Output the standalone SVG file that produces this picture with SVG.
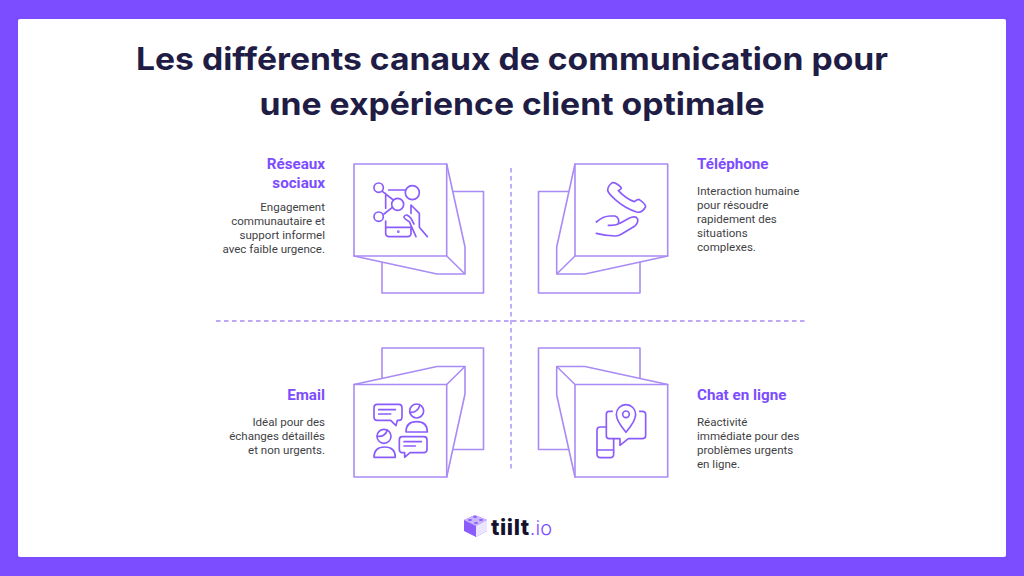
<svg xmlns="http://www.w3.org/2000/svg" width="1024" height="576" viewBox="0 0 1024 576">
<style>
.s{fill:none;stroke:#a98bf5;stroke-width:1.6;stroke-linejoin:round}
.w{fill:#fff;stroke:#a98bf5;stroke-width:1.6;stroke-linejoin:round}
.i{fill:none;stroke:#8a5cfb;stroke-width:5;stroke-linecap:round;stroke-linejoin:round}
.d{stroke:#a98bf5;stroke-width:1.4;stroke-dasharray:4.5 3.5;fill:none}
.t{font-family:"Inter","Liberation Sans",sans-serif;font-weight:700;font-size:31px;fill:#1f1d45;text-anchor:middle}
.h{font-family:"Roboto","Liberation Sans",sans-serif;font-weight:700;font-size:15.2px;fill:#7c4dff}
.b{font-family:"Roboto","Liberation Sans",sans-serif;font-size:11.55px;fill:#3f3f46}
.e{text-anchor:end}
</style>
<rect width="1024" height="576" fill="#7c4dff"/>
<rect x="18" y="19" width="988" height="538" rx="2" fill="#fff"/>
<g id="title">
<text class="t" x="512" y="70" textLength="752" lengthAdjust="spacingAndGlyphs">Les différents canaux de communication pour</text>
<text class="t" x="512" y="115" textLength="505" lengthAdjust="spacingAndGlyphs">une expérience client optimale</text>
</g>
<g id="connectors">
<path class="d" d="M511 168V472"/>
<path class="d" d="M216 321H807"/>
</g>
<g id="reseaux">
<rect class="s" x="382" y="191.5" width="101.5" height="101.5"/>
<path class="w" d="M446.7 164L465 247V274H437L354 256Z"/>
<path class="s" d="M446.7 256L465 274"/>
<rect class="w" x="354" y="164" width="92.7" height="92"/>
<g class="i" transform="translate(340 150) scale(.3333)">
<circle cx="116" cy="113" r="14"/><circle cx="217" cy="128" r="21"/><circle cx="173" cy="163" r="18"/><circle cx="116" cy="200" r="14"/>
<path d="M127 124L160 150M146 120H196M132 192L157 172M137 130V175M137 213V250Q137 260 147 260H203Q213 260 213 250V236M137 232H213M213 165V190M213 165L238 190V232L262 260M228 260L208 215Q190 205 192 200Q200 188 213 205L222 222"/>
<circle cx="175" cy="245" r="1.5"/>
</g>
<text class="h e" x="325" y="169">Réseaux</text>
<text class="h e" x="325" y="188">sociaux</text>
<text class="b e" x="325" y="211">Engagement</text>
<text class="b e" x="325" y="225">communautaire et</text>
<text class="b e" x="325" y="239">support informel</text>
<text class="b e" x="325" y="253">avec faible urgence.</text>
</g>
<g id="telephone">
<rect class="s" x="538.5" y="191.5" width="101.5" height="101.5"/>
<path class="w" d="M575 164L556.7 247V274H585L667.7 256Z"/>
<path class="s" d="M575 256L556.7 274"/>
<rect class="w" x="575" y="164" width="92.7" height="92"/>
<g class="i" transform="translate(525 150) scale(.3333)">
<path d="M262 98Q248 108 248 122Q252 132 270 148Q300 175 335 186Q352 190 362 170Q362 162 342 148Q335 148 328 155Q305 148 280 122Q292 116 288 112Q272 96 262 98Z"/>
<path d="M214 216Q235 198 255 198H270Q285 203 280 222Q270 227 250 226M214 250Q245 258 272 258Q280 258 290 252L330 228Q345 212 334 202Q325 198 312 205L285 220"/>
</g>
<text class="h" x="697" y="169">Téléphone</text>
<text class="b" x="697" y="195">Interaction humaine</text>
<text class="b" x="697" y="209">pour résoudre</text>
<text class="b" x="697" y="223">rapidement des</text>
<text class="b" x="697" y="237">situations</text>
<text class="b" x="697" y="251">complexes.</text>
</g>
<g id="email">
<rect class="s" x="382" y="348" width="101.5" height="101.5"/>
<path class="w" d="M354 384.5L437 366.5H465V394L446.7 477Z"/>
<path class="s" d="M446.7 384.5L465 366.5"/>
<rect class="w" x="354" y="384.5" width="92.7" height="92.5"/>
<g class="i" transform="translate(340 335) scale(.3333)">
<path d="M112 208H176Q186 208 186 218V246Q186 256 176 256H172L168 272L152 256H112Q102 256 102 246V218Q102 208 112 208ZM116 224H166M116 237H152"/>
<circle cx="230" cy="228" r="21"/><path d="M210 232Q232 234 240 210M198 291Q198 260 230 260Q262 260 262 291Z"/>
<circle cx="132" cy="304" r="21"/><path d="M112 304Q134 306 142 286M102 367Q102 336 134 336Q166 336 166 367Z"/>
<path d="M186 305H252Q261 305 261 315V343Q261 353 252 353H210L194 367V353H186Q178 353 178 343V315Q178 305 186 305ZM192 320H244M192 333H226"/>
</g>
<text class="h e" x="325" y="400">Email</text>
<text class="b e" x="325" y="426">Idéal pour des</text>
<text class="b e" x="325" y="440">échanges détaillés</text>
<text class="b e" x="325" y="454">et non urgents.</text>
</g>
<g id="chat">
<rect class="s" x="538.5" y="348" width="101.5" height="101.5"/>
<path class="w" d="M667.7 384.5L585 366.5H556.7V395L575 477Z"/>
<path class="s" d="M575 384.5L556.7 366.5"/>
<rect class="w" x="575" y="384.5" width="92.7" height="92.5"/>
<g class="i" transform="translate(525 335) scale(.3333)">
<path d="M303 292Q274 258 274 238A29 29 0 0 1 332 238Q332 258 303 292Z"/><circle cx="303" cy="238" r="10"/>
<path d="M262 229H252Q244 229 244 238V302Q244 311 252 311H285V331L310 311H352Q362 311 362 302V238Q362 229 352 229H344"/>
<path d="M244 276H226Q216 276 216 286V358Q216 368 226 368H256Q266 368 266 358V311M216 345H266"/>
</g>
<text class="h" x="697" y="400">Chat en ligne</text>
<text class="b" x="697" y="426">Réactivité</text>
<text class="b" x="697" y="440">immédiate pour des</text>
<text class="b" x="697" y="454">problèmes urgents</text>
<text class="b" x="697" y="468">en ligne.</text>
</g>
<g id="logo">
<path d="M464 520L475 515L487 520V531L476 537L464 531Z" fill="#8a5cfb"/>
<path d="M464 520L475 515L487 520L476 526Z" fill="#c9b5fb"/>
<path d="M476 526L487 520V531L476 537Z" fill="#ece5fe"/>
<g fill="#8a5cfb"><ellipse cx="475" cy="517" rx="2" ry="1"/><ellipse cx="470" cy="520" rx="2" ry="1"/><ellipse cx="481" cy="520" rx="2" ry="1"/><ellipse cx="476" cy="523" rx="2" ry="1"/></g>
<text x="491" y="535" font-family="Inter,'Liberation Sans',sans-serif" font-weight="800" font-size="22" letter-spacing=".6" fill="#14122e">tiilt<tspan fill="#7c4dff" font-weight="300" font-size="20" letter-spacing="0">.io</tspan></text>
</g>
</svg>
